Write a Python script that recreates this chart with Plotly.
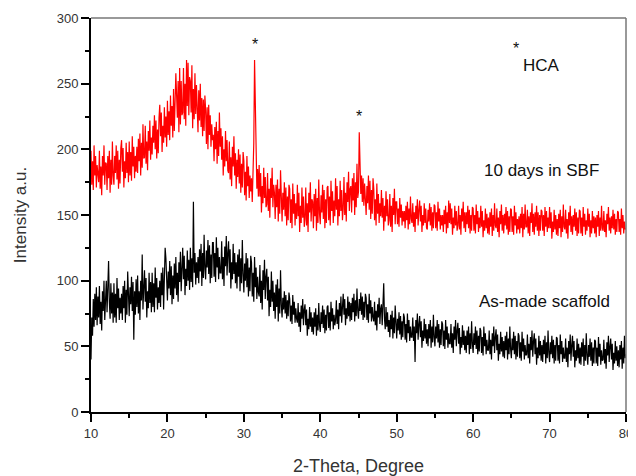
import numpy as np
import plotly.graph_objects as go

# 2-theta scan grid (degrees), step 0.1
two_theta = np.round(np.arange(10.0, 80.0001, 0.1), 1)

# "10 days in SBF" intensities, one row per degree
sbf = [
    199,173,191,169,203,180,195,171,188,176,
    175,199,170,187,165,195,180,203,173,190,
    189,169,195,178,199,167,192,173,206,180,
    173,195,182,203,177,199,170,192,174,201,
    207,183,201,171,191,178,205,182,198,175,
    206,180,198,176,210,187,202,178,195,183,
    202,182,208,191,212,180,205,186,219,193,
    194,218,189,206,184,214,199,222,192,209,
    196,218,205,226,200,222,193,215,197,224,
    234,210,228,198,218,205,232,209,225,202,
    237,211,229,207,241,218,233,209,246,214,
    235,258,241,224,252,213,262,219,252,226,
    228,262,223,250,218,268,233,266,226,255,
    252,228,264,216,246,223,258,227,249,220,
    213,245,222,250,217,239,210,238,214,241,
    230,204,232,200,234,211,226,202,219,207,
    211,191,217,200,221,189,214,195,228,202,
    216,192,210,180,200,187,214,191,207,184,
    182,206,177,194,172,202,187,210,180,197,
    170,192,179,200,174,196,167,189,171,198,
    191,165,183,161,195,172,187,163,180,168,
    178,160,176,205,268,232,188,170,185,164,
    188,164,182,152,172,159,186,163,179,156,
    158,182,153,170,148,178,163,186,156,173,
    167,147,173,156,177,145,170,151,184,158,
    145,167,154,175,149,171,142,164,146,173,
    170,144,162,140,174,151,166,142,159,147,
    173,149,167,137,157,144,171,148,164,141,
    147,171,142,159,137,167,152,175,145,162,
    160,140,166,149,170,138,163,144,177,151,
    143,165,152,173,147,169,140,162,144,171,
    172,146,164,142,176,153,168,144,161,149,
    178,154,172,142,162,149,176,153,169,146,
    155,179,150,167,145,175,160,183,153,170,
    172,152,178,161,182,150,175,156,189,163,
    168,213,190,166,180,160,178,157,174,162,
    150,172,159,180,154,176,147,169,151,178,
    170,146,162,142,174,151,166,144,159,149,
    169,148,163,138,157,145,168,149,162,142,
    146,166,141,157,137,163,150,170,143,160,
    160,143,155,141,163,148,158,142,153,145,
    153,140,157,146,160,139,155,143,164,147,
    144,159,141,152,137,157,147,162,142,154,
    161,145,157,137,150,142,159,144,155,140,
    139,154,145,159,142,156,138,152,140,158,
    157,140,152,138,160,145,155,139,150,142,
    150,137,154,143,157,136,152,140,161,144,
    159,143,155,135,148,140,157,142,153,138,
    142,157,139,150,135,155,145,160,140,152,
    137,152,143,157,140,154,136,150,138,156,
    155,138,150,136,158,143,153,137,148,140,
    157,141,153,133,146,138,155,140,151,136,
    148,135,152,141,155,134,150,138,159,142,
    140,155,137,148,133,153,143,158,138,150,
    136,151,142,156,139,153,135,149,137,155,
    154,137,149,135,157,142,152,136,147,139,
    149,136,151,140,156,133,151,139,158,141,
    141,154,136,149,134,152,144,159,137,151,
    135,152,141,157,138,152,134,150,138,154,
    153,138,150,134,156,141,153,137,148,140,
    156,140,152,132,145,137,154,139,150,135,
    147,134,151,140,154,133,149,137,158,141,
    139,154,136,147,132,152,142,157,137,149,
    135,150,141,155,138,152,134,148,136,154,
    153,136,148,134,156,141,151,135,146,138,
    155,141,151,133,146,136,153,140,149,136,
    148,133,150,141,153,134,148,138,157,140,
    138,153,137,146,133,151,143,156,138,148,
    136,149,140,154,139,151,135,147,137,153,
    152,137,147,135,155,140,150,136,145,139,
    140,
]

# "As-made scaffold" intensities, one row per degree
as_made = [
    40,72,58,86,65,90,70,95,66,88,
    72,96,67,84,62,92,77,100,70,87,
    100,76,94,115,84,71,98,75,91,68,
    98,72,90,68,102,79,94,70,87,75,
    90,70,96,79,100,68,93,74,107,81,
    73,95,82,103,77,99,55,92,74,101,
    80,104,75,92,70,100,85,120,78,95,
    108,84,102,72,92,79,106,83,99,76,
    106,80,98,76,110,87,102,78,95,83,
    100,80,106,89,110,78,103,125,117,91,
    85,107,94,115,89,111,82,104,86,113,
    94,118,89,106,84,114,99,122,92,109,
    125,101,119,89,109,96,123,100,116,93,
    125,99,117,95,160,106,121,97,114,102,
    118,98,124,107,128,96,121,102,135,109,
    101,123,110,131,105,127,98,120,102,129,
    129,103,121,99,133,110,125,101,118,106,
    106,130,101,118,96,126,111,134,104,121,
    130,106,124,94,114,101,128,105,121,98,
    114,94,120,103,124,92,117,98,131,105,
    91,113,100,121,95,117,88,110,92,119,
    114,88,106,84,118,95,110,86,103,91,
    88,112,83,100,78,108,93,116,86,103,
    109,85,103,73,93,80,107,84,100,77,
    91,71,97,80,101,69,94,75,108,82,
    72,87,78,92,75,89,71,85,73,91,
    86,69,81,67,89,74,84,68,79,71,
    68,83,65,76,61,81,71,86,66,78,
    82,66,78,58,71,63,80,65,76,61,
    72,59,76,65,79,58,74,62,83,66,
    61,76,67,81,64,78,60,74,62,80,
    81,64,76,62,84,69,79,63,74,66,
    70,85,67,78,63,83,73,88,68,80,
    90,74,86,66,79,71,88,73,84,69,
    83,70,87,76,90,69,85,73,94,77,
    71,86,77,91,74,88,70,84,72,90,
    87,70,82,68,90,75,85,69,80,72,
    69,84,66,77,62,82,72,87,67,79,
    82,66,78,98,71,63,80,65,76,61,
    70,57,74,63,77,56,72,60,81,64,
    56,71,62,76,59,73,55,69,57,75,
    72,55,67,53,75,60,70,54,65,57,
    57,72,54,65,38,70,60,75,55,67,
    73,57,69,49,62,54,71,56,67,52,
    63,50,67,56,70,49,65,53,74,57,
    50,65,56,70,53,67,49,63,51,69,
    67,50,62,48,70,55,65,49,60,52,
    52,67,49,60,45,65,55,70,50,62,
    68,52,64,44,57,49,66,51,62,47,
    58,45,62,51,65,44,60,48,69,52,
    45,60,51,65,48,62,44,58,46,64,
    62,45,57,43,65,50,60,44,55,47,
    47,62,44,55,40,60,50,65,45,57,
    63,47,59,39,52,44,61,46,57,42,
    54,41,58,47,61,40,56,44,65,48,
    41,56,47,61,44,58,40,54,42,60,
    58,41,53,39,61,46,56,40,51,43,
    44,59,41,52,37,57,47,62,42,54,
    60,44,56,36,49,41,58,43,54,39,
    51,38,55,44,58,37,53,41,62,45,
    38,53,44,58,41,55,37,51,39,57,
    56,39,51,37,59,44,54,38,49,41,
    41,56,38,49,34,54,44,59,39,51,
    58,42,54,34,47,39,56,41,52,37,
    49,36,53,42,56,35,51,39,60,43,
    36,51,42,56,39,53,35,49,37,55,
    54,37,49,35,57,42,52,36,47,39,
    40,55,37,48,33,53,43,58,38,50,
    56,40,52,32,45,37,54,39,50,35,
    47,34,51,40,54,33,49,37,58,41,
    44,
]

assert len(sbf) == len(two_theta) and len(as_made) == len(two_theta)

x_ticks = [10, 20, 30, 40, 50, 60, 70, 80]
y_ticks = [0, 50, 100, 150, 200, 250, 300]

FONT = "Liberation Sans, Arial, sans-serif"

fig = go.Figure()
fig.add_trace(go.Scatter(x=two_theta, y=as_made, mode="lines",
                         line=dict(color="#000000", width=1.2), showlegend=False))
fig.add_trace(go.Scatter(x=two_theta, y=sbf, mode="lines",
                         line=dict(color="#ff0000", width=1.2), showlegend=False))

axis_common = dict(
    showgrid=False, zeroline=False, showline=True, linecolor="#000000", linewidth=2,
    ticks="outside", ticklen=8, tickwidth=1.5, tickcolor="#000000",
    tickfont=dict(family=FONT, size=13, color="#333333"),
    minor=dict(ticks="outside", ticklen=4, tickwidth=1.5, tickcolor="#000000"),
    automargin=False,
)

fig.update_xaxes(range=[10, 80], tickvals=x_ticks,
                 minor_dtick=5, minor_tick0=10,
                 title=dict(text="2-Theta, Degree", font=dict(family=FONT, size=18, color="#333333"), standoff=27),
                 **axis_common)
fig.update_yaxes(range=[0, 300], tickvals=y_ticks,
                 minor_dtick=25, minor_tick0=0,
                 title=dict(text="Intensity a.u.", font=dict(family=FONT, size=17, color="#333333"), standoff=26),
                 **axis_common)

# gray frame on top and right
fig.add_shape(type="line", xref="paper", yref="paper", x0=0, x1=1, y0=1, y1=1,
              line=dict(color="#777777", width=1.5))
fig.add_shape(type="line", xref="paper", yref="paper", x0=1, x1=1, y0=0, y1=1,
              line=dict(color="#777777", width=1.5))

star_font = dict(family=FONT, size=16, color="#111111")
ann_font = dict(family=FONT, size=17, color="#111111")
fig.add_annotation(x=31.5, y=280, text="*", showarrow=False, font=star_font)
fig.add_annotation(x=45.1, y=225, text="*", showarrow=False, font=star_font)
fig.add_annotation(x=65.6, y=277, text="*", showarrow=False, font=star_font)
fig.add_annotation(x=69.0, y=264, text="HCA", showarrow=False, font=ann_font)
fig.add_annotation(x=68.9, y=184, text="10 days in SBF", showarrow=False, font=ann_font)
fig.add_annotation(x=69.4, y=84, text="As-made scaffold", showarrow=False, font=ann_font)

# page body has an 8px margin, so the figure is sized to fit the 636x476 window
fig.update_layout(
    width=628, height=468,
    margin=dict(l=83, r=10, t=10, b=64),
    paper_bgcolor="#ffffff", plot_bgcolor="#ffffff",
    font=dict(family=FONT),
)

fig.write_html("out.html")
